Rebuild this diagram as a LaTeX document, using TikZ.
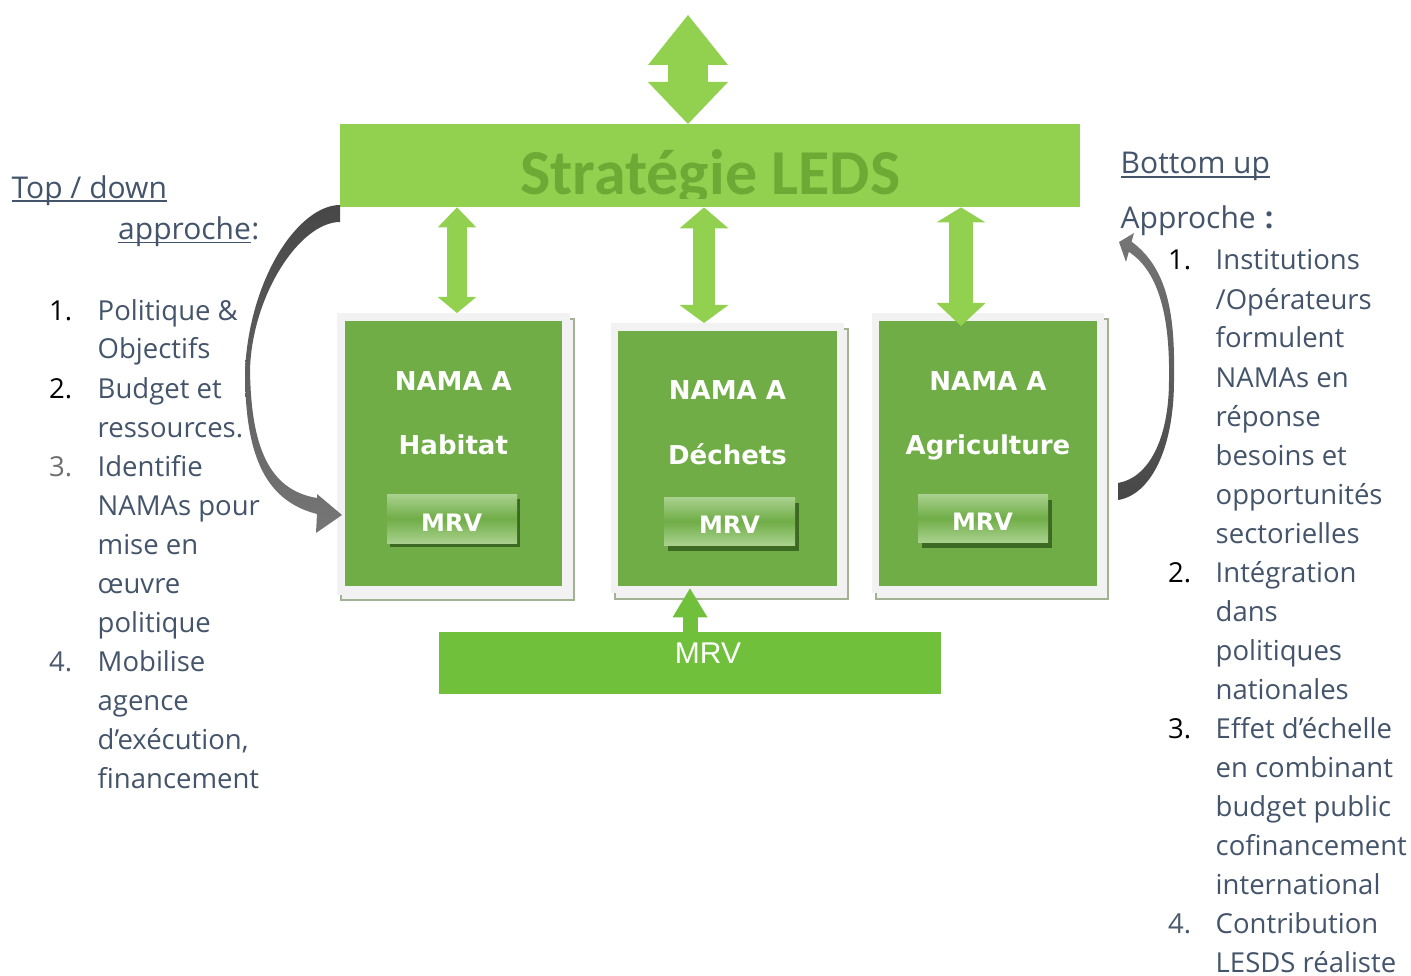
\documentclass[tikz,border=0pt]{standalone}
\usepackage{fontspec}
\setmainfont{Open Sans}
\newfontfamily\boxfont{DejaVu Sans}
\newfontfamily\titlefont{Carlito}
\newfontfamily\plainfont{Liberation Sans}
\usetikzlibrary{arrows.meta}

\definecolor{leds}{HTML}{92D050}
\definecolor{ledstext}{HTML}{6DAA35}
\definecolor{namagreen}{HTML}{70AD47}
\definecolor{framegray}{HTML}{F2F2F2}
\definecolor{sheetedge}{HTML}{A3B293}
\definecolor{btnlight}{HTML}{A9D18E}
\definecolor{btnshadow}{HTML}{3C6A23}
\definecolor{mrvgreen}{HTML}{71C03B}
\definecolor{slate}{HTML}{44546A}
\definecolor{numgray}{HTML}{6E6E6E}
\definecolor{numslate}{HTML}{4C5A6E}
\definecolor{curvedark}{HTML}{474747}
\definecolor{curvelight}{HTML}{767676}

\begin{document}
\begin{tikzpicture}[x=1pt,y=-1pt,
  sheet/.style={fill=framegray, draw=sheetedge, line width=2pt, inner sep=0pt, anchor=north west},
  frame/.style={fill=framegray, inner sep=0pt, anchor=north west},
  inner/.style={fill=namagreen, inner sep=0pt, anchor=north west},
  button/.style={top color=btnlight, bottom color=btnlight, middle color=namagreen,
    inner sep=0pt, anchor=north west, minimum width=130pt, minimum height=48pt},
  buttonshade/.style={fill=btnshadow, inner sep=0pt, anchor=north west,
    minimum width=130pt, minimum height=48pt},
  namalabel/.style={text=white, anchor=base, inner sep=0pt,
    font=\boxfont\bfseries\fontsize{26}{30}\selectfont},
  btnlabel/.style={text=white, anchor=base, inner sep=0pt,
    font=\boxfont\bfseries\fontsize{24}{28}\selectfont},
  listline/.style={anchor=base west, inner sep=0pt, text=slate,
    font=\fontsize{27.5}{39}\selectfont},
  listnum/.style={listline, text=black},
  heading/.style={anchor=base west, inner sep=0pt, text=slate,
    font=\fontsize{30}{36}\selectfont},
  underl/.style={draw=slate, line width=1.5pt},
  blockarrow/.style={line width=#1},
]
\useasboundingbox (0,0) rectangle (1411,976);

% x positions of the vertical block arrows
\coordinate (c0) at (688,0);
\coordinate (c1) at (457,0);
\coordinate (c2) at (704,0);
\coordinate (c3) at (961,0);
\coordinate (c4) at (690,0);
\coordinate (topend) at (688,15);

% strategy bar
\node[fill=leds, inner sep=0pt, anchor=north west, minimum width=740pt, minimum height=83pt] (leds) at (340,124) {};
\begin{scope}
  \clip (340,124) rectangle (1080,199);
  \node[anchor=base, inner sep=0pt, text=ledstext, font=\titlefont\bfseries\fontsize{64}{70}\selectfont] (ledstitle) at (710.5,195) {Stratégie LEDS};
\end{scope}

% NAMA Habitat
\node[sheet, minimum width=233pt, minimum height=281pt] (s1) at (340,318) {};
\node[frame, minimum width=233pt, minimum height=282pt] (f1) at (337,313) {};
\node[inner, minimum width=217pt, minimum height=265pt] (g1) at (345,321) {};
\node[buttonshade] (bs1) at (390,499) {};
\node[button, minimum height=49pt] (b1) at (387,494) {};
\node[namalabel] (n1) at (453.3,390) {NAMA A};
\node[namalabel] (t1) at (453.3,454) {Habitat};
\node[btnlabel] (m1) at (451.7,531.5) {MRV};

% NAMA Déchets
\node[sheet, minimum width=233pt, minimum height=270pt] (s2) at (614,328) {};
\node[frame, minimum width=233pt, minimum height=270pt] (f2) at (611,323) {};
\node[inner, minimum width=219pt, minimum height=255pt] (g2) at (618,331) {};
\node[buttonshade, minimum width=131pt] (bs2) at (668,503) {};
\node[button, minimum width=131pt] (b2) at (664,497) {};
\node[namalabel] (n2) at (727.5,399.3) {NAMA A};
\node[namalabel] (t2) at (727.5,464) {Déchets};
\node[btnlabel] (m2) at (729.5,533.3) {MRV};

% NAMA Agriculture
\node[sheet, minimum width=232pt, minimum height=280pt] (s3) at (875,318) {};
\node[frame, minimum width=232pt, minimum height=280pt] (f3) at (872,313) {};
\node[inner, minimum width=218pt, minimum height=265pt] (g3) at (879,321) {};
\node[buttonshade] (bs3) at (922,500) {};
\node[button] (b3) at (918,494) {};
\node[namalabel] (n3) at (988,390) {NAMA A};
\node[namalabel] (t3) at (988,454) {Agriculture};
\node[btnlabel] (m3) at (982.5,530.7) {MRV};

% MRV bar
\node[fill=mrvgreen, inner sep=0pt, anchor=north west, minimum width=502pt, minimum height=62pt] (mrv) at (439,632) {};
\node[anchor=base, inner sep=0pt, text=white, font=\plainfont\fontsize{30}{36}\selectfont] (mrvtext) at (708,663.3) {MRV};

% block arrows
\draw[leds, blockarrow=40pt,
  {Triangle[length=50pt,width=80pt,line width=0pt]}-{Triangle[length=42pt,width=80pt,line width=0pt]}]
  (topend) -- (leds.north -| c0);
\draw[leds, blockarrow=19.5pt,
  {Triangle[length=20pt,width=38.6pt,line width=0pt]}-{Triangle[length=16pt,width=38.6pt,line width=0pt]}]
  (leds.south -| c1) -- (f1.north -| c1);
\draw[leds, blockarrow=22pt,
  {Triangle[length=21pt,width=49pt,line width=0pt]}-{Triangle[length=18pt,width=49pt,line width=0pt]}]
  (leds.south -| c2) -- (f2.north -| c2);
\draw[leds, blockarrow=24pt, shorten >=-13pt,
  {Triangle[length=15pt,width=49pt,line width=0pt]}-{Triangle[length=23pt,width=49pt,line width=0pt]}]
  (leds.south -| c3) -- (f3.north -| c3);
\draw[mrvgreen, blockarrow=15pt, shorten >=-5pt,
  -{Triangle[length=29pt,width=35pt,line width=0pt]}]
  (mrv.north -| c4) -- (f2.south -| c4);

% curved arrow, top-down approach
\shade[top color=curvedark, bottom color=curvelight]
  (340,205) .. controls (300,205) and (250,275) .. (245,370)
  .. controls (245,450) and (262,500) .. (317,514)
  -- (316,533) -- (342,515) -- (317,494) -- (317,498)
  .. controls (268,490) and (251,445) .. (250,370)
  .. controls (252,295) and (300,222) .. (340,222) -- cycle;

% curved arrow, bottom-up approach
\shade[top color=curvelight, bottom color=curvedark]
  (1118,500) .. controls (1150,495) and (1174,450) .. (1174,380)
  .. controls (1175,320) and (1170,270) .. (1131.6,241.7)
  -- (1134,233) -- (1119,242) -- (1126,262) -- (1128.8,251.9)
  .. controls (1160,272) and (1170,320) .. (1169,380)
  .. controls (1169,440) and (1148,478) .. (1118,483) -- cycle;

% top-down heading and list
\node[heading] (td) at (11.5,198.3) {Top / down};
\draw[underl] ([yshift=-2.5pt]td.base west) -- ([yshift=-2.5pt]td.base east);
\node[heading] (tdap) at (118,240) {approche};
\draw[underl] ([yshift=-2.5pt]tdap.base west) -- ([yshift=-2.5pt]tdap.base east);
\node[heading, anchor=base west] (tdcolon) at (tdap.base east) {:};

\foreach \t [count=\i] in {Politique \&, Objectifs, Budget et, ressources., Identifie,
  NAMAs pour, mise en, œuvre, politique, Mobilise, agence, {d’exécution,}, financement}
  \node[listline] (L\i) at (97.5,{320+39*(\i-1)}) {\t};
\node[listnum] (Ln1) at (49,320) {1.};
\node[listnum] (Ln2) at (49,398) {2.};
\node[listnum, text=numgray] (Ln3) at (49,476) {3.};
\node[listnum, text=numslate] (Ln4) at (49,671) {4.};

% bottom-up heading and list
\node[heading] (bu) at (1120.5,173.3) {Bottom up};
\draw[underl] ([yshift=-3.5pt]bu.base west) -- ([yshift=-3.5pt]bu.base east);
\node[heading] (buap) at (1120.5,228.3) {Approche\hspace{9pt}{\bfseries :}};

\foreach \t [count=\i] in {Institutions, /Opérateurs, formulent, NAMAs en, réponse,
  besoins et, opportunités, sectorielles, Intégration, dans, politiques, nationales,
  Effet d’échelle, en combinant, budget public, cofinancement, international,
  Contribution, LESDS réaliste}
  \node[listline] (R\i) at (1215.5,{270+39*(\i-1)}) {\t};
\node[listnum] (Rn1) at (1168,270) {1.};
\node[listnum] (Rn2) at (1168,582) {2.};
\node[listnum] (Rn3) at (1168,738) {3.};
\node[listnum, text=numslate] (Rn4) at (1168,933) {4.};
\end{tikzpicture}
\end{document}
